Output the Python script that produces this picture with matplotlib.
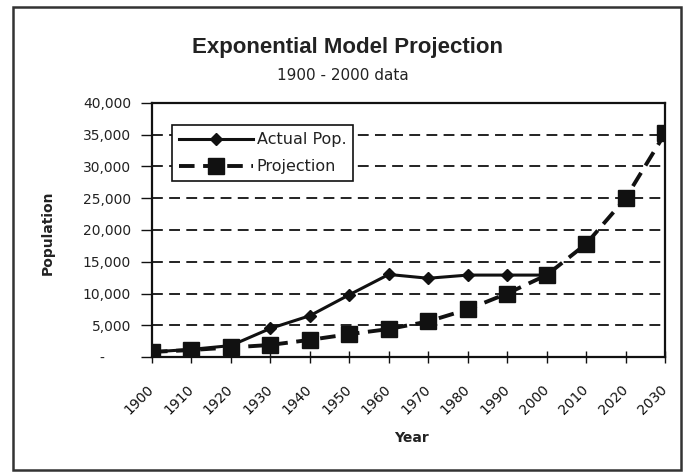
import matplotlib.pyplot as plt
import matplotlib.transforms as mtransforms
from matplotlib.patches import Rectangle
from matplotlib.ticker import FuncFormatter

plt.rcParams['font.family'] = ['DejaVu Sans']

years = [1900, 1910, 1920, 1930, 1940, 1950, 1960, 1970, 1980, 1990, 2000, 2010, 2020, 2030]
actual_years = years[:11]
actual_pop = [800, 1200, 1800, 4500, 6500, 9800, 13000, 12400, 12900, 12900, 12900]
projection = [800, 1100, 1500, 1900, 2700, 3600, 4400, 5600, 7500, 10000, 12900, 17800, 25000, 35200]
y_ticks = [0, 5000, 10000, 15000, 20000, 25000, 30000, 35000, 40000]


def accounting(v, pos):
    # zero shows as a dash, the rest with thousands separators
    if v == 0:
        return '-      '
    return f'{int(v):,}'


fig = plt.figure(figsize=(6.83, 4.72), dpi=100)
ax = fig.add_axes([152 / 683, 1 - 357 / 472, 513 / 683, 254 / 472])

ax.plot(actual_years, actual_pop, color='#111111', lw=2.2, marker='D', ms=6.5,
        label='Actual Pop.', zorder=4)
ax.plot(years, projection, color='#111111', lw=2.8, ls=(0, (4, 2.2)), marker='s', ms=11,
        label='Projection', zorder=3)

ax.set_xlim(1900, 2030)
ax.set_ylim(0, 40000)
ax.set_xticks(years)
ax.set_xticklabels([str(y) for y in years], rotation=45, ha='right', va='center',
                   rotation_mode='anchor', fontsize=10, color='#222222')
shift = mtransforms.ScaledTranslation(-7 / 100, 0, fig.dpi_scale_trans)
for lab in ax.get_xticklabels():
    lab.set_transform(lab.get_transform() + shift)

ax.set_yticks(y_ticks)
ax.yaxis.set_major_formatter(FuncFormatter(accounting))
ax.tick_params(axis='y', direction='out', length=8, width=1, colors='#111111',
               labelsize=10, labelcolor='#222222', pad=7)
ax.tick_params(axis='x', direction='inout', length=8, width=1, colors='#111111', pad=18)

for v in y_ticks[1:-1]:
    ax.axhline(v, color='#111111', lw=1.3, ls=(0, (6, 3.5)), zorder=1)

for s in ax.spines.values():
    s.set_linewidth(1.6)
    s.set_color('#111111')

ax.set_xlabel('Year', fontsize=10, fontweight='bold', color='#222222')
ax.set_ylabel('Population', fontsize=10, fontweight='bold', color='#222222')
ax.xaxis.set_label_coords(0.505, -0.29)
ax.yaxis.set_label_coords(-0.19, 0.49)

leg = ax.legend(loc='upper left', bbox_to_anchor=(0.039, 0.913), fontsize=11.5,
                handlelength=4.6, frameon=True, fancybox=False, borderaxespad=0,
                borderpad=0.45, labelspacing=0.75, handletextpad=0.25, framealpha=1)
leg.get_frame().set_edgecolor('#111111')
leg.get_frame().set_linewidth(1.2)
for t in leg.get_texts():
    t.set_color('#222222')

fig.text(348 / 683, 1 - 48 / 472, 'Exponential Model Projection', ha='center', va='center',
         fontsize=16, fontweight='bold', color='#222222', family=['Liberation Sans'])
fig.text(343 / 683, 1 - 75 / 472, '1900 - 2000 data', ha='center', va='center',
         fontsize=11, color='#222222')

# outer chart border
fig.patches.append(Rectangle((13 / 683, 1 - 470 / 472), 668 / 683, 463 / 472,
                             transform=fig.transFigure, fill=False, ec='#333333', lw=1.8))

fig.savefig('out.png', dpi=100)
